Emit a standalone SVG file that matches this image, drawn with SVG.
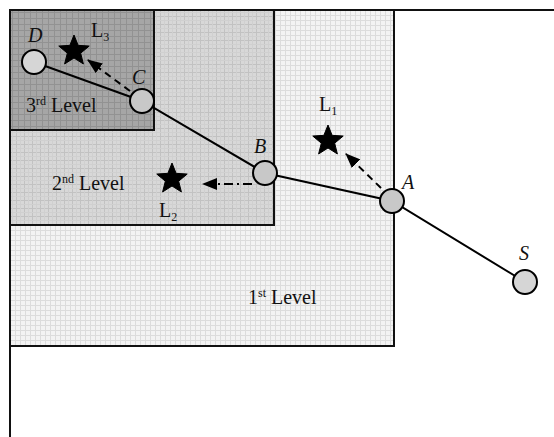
<svg xmlns="http://www.w3.org/2000/svg" width="554" height="437" viewBox="0 0 554 437">
<defs>
<style>
.lvl{stroke:#111;stroke-width:2}
.txt{font-family:"Liberation Serif","Times New Roman",serif;font-size:20px;fill:#111}
.sup{font-size:12px}
.it{font-style:italic;font-size:20px}
.edge{stroke:#000;stroke-width:2;fill:none}
.dash{stroke:#000;stroke-width:2;fill:none;stroke-dasharray:7 5}
.dashdot{stroke:#000;stroke-width:2;fill:none;stroke-dasharray:9 4 2 4}
.node{stroke:#000;stroke-width:2;fill:#c8c8c8}
.snode{stroke:#000;stroke-width:2;fill:#d6d6d6}
.star{fill:#000;stroke:#000;stroke-width:1;stroke-linejoin:round}
</style>
<pattern id="p1" width="5" height="5" patternUnits="userSpaceOnUse">
<rect width="5" height="5" fill="#f3f3f3"/>
<path d="M0 0.5H5M0.5 0V5" stroke="#dcdcdc" stroke-width="1"/>
</pattern>
<pattern id="p2" width="8" height="8" patternUnits="userSpaceOnUse">
<rect width="8" height="8" fill="#d8d8d8"/>
<path d="M0 0.5H8M0.5 0V8" stroke="#c2c2c2" stroke-width="1"/>
<path d="M0 4.5H8M4.5 0V8" stroke="#d0d0d0" stroke-width="1"/>
</pattern>
<pattern id="p3" width="6" height="6" patternUnits="userSpaceOnUse">
<rect width="6" height="6" fill="#a6a6a6"/>
<path d="M0 0.5H6M0.5 0V6" stroke="#929292" stroke-width="1"/>
</pattern>
<marker id="ah" viewBox="0 0 15 12" refX="14" refY="6" markerWidth="15" markerHeight="12" markerUnits="userSpaceOnUse" orient="auto">
<path d="M0 0L15 6L0 12Z" fill="#000"/>
</marker>
<polygon id="star" points="0,-16 4.11,-5.66 15.22,-4.94 6.66,2.16 9.40,12.94 0,7 -9.40,12.94 -6.66,2.16 -15.22,-4.94 -4.11,-5.66"/>
</defs>
<rect width="554" height="437" fill="#fff"/>
<g id="frame">
<path d="M10 10H554M10 10V437" stroke="#111" stroke-width="2" fill="none"/>
</g>
<g id="level1">
<rect class="lvl" x="10" y="10" width="384" height="336" fill="url(#p1)"/>
<text class="txt" x="248" y="304">1<tspan class="sup" dy="-7">st</tspan><tspan dy="7"> Level</tspan></text>
</g>
<g id="level2">
<rect class="lvl" x="10" y="10" width="264" height="215" fill="url(#p2)"/>
<text class="txt" x="52" y="190">2<tspan class="sup" dy="-7">nd</tspan><tspan dy="7"> Level</tspan></text>
</g>
<g id="level3">
<rect class="lvl" x="10" y="10" width="144" height="120" fill="url(#p3)"/>
<text class="txt" x="26" y="112">3<tspan class="sup" dy="-7">rd</tspan><tspan dy="7"> Level</tspan></text>
</g>
<g id="connectors">
<polyline class="edge" points="34,62 142,101 265,173 392,201 525,282"/>
<line class="dash" x1="130" y1="91" x2="88" y2="60" marker-end="url(#ah)"/>
<line class="dash" x1="381" y1="188" x2="346" y2="154" marker-end="url(#ah)"/>
<line class="dashdot" x1="252" y1="184" x2="203" y2="184" marker-end="url(#ah)"/>
</g>
<g id="L1">
<use href="#star" class="star" x="328" y="141"/>
<text class="txt" x="319" y="111">L<tspan class="sup" dy="4">1</tspan></text>
</g>
<g id="L2">
<use href="#star" class="star" x="172" y="179"/>
<text class="txt" x="159" y="217">L<tspan class="sup" dy="4">2</tspan></text>
</g>
<g id="L3">
<use href="#star" class="star" x="74" y="51"/>
<text class="txt" x="91" y="37">L<tspan class="sup" dy="4">3</tspan></text>
</g>
<g id="D">
<circle class="snode" cx="34" cy="62" r="12"/>
<text class="txt it" x="28" y="42">D</text>
</g>
<g id="C">
<circle class="node" cx="142" cy="101" r="12"/>
<text class="txt it" x="132" y="84">C</text>
</g>
<g id="B">
<circle class="node" cx="265" cy="173" r="12"/>
<text class="txt it" x="254" y="153">B</text>
</g>
<g id="A">
<circle class="node" cx="392" cy="201" r="12"/>
<text class="txt it" x="402" y="189">A</text>
</g>
<g id="S">
<circle class="snode" cx="525" cy="282" r="12"/>
<text class="txt it" x="519" y="260">S</text>
</g>
</svg>
